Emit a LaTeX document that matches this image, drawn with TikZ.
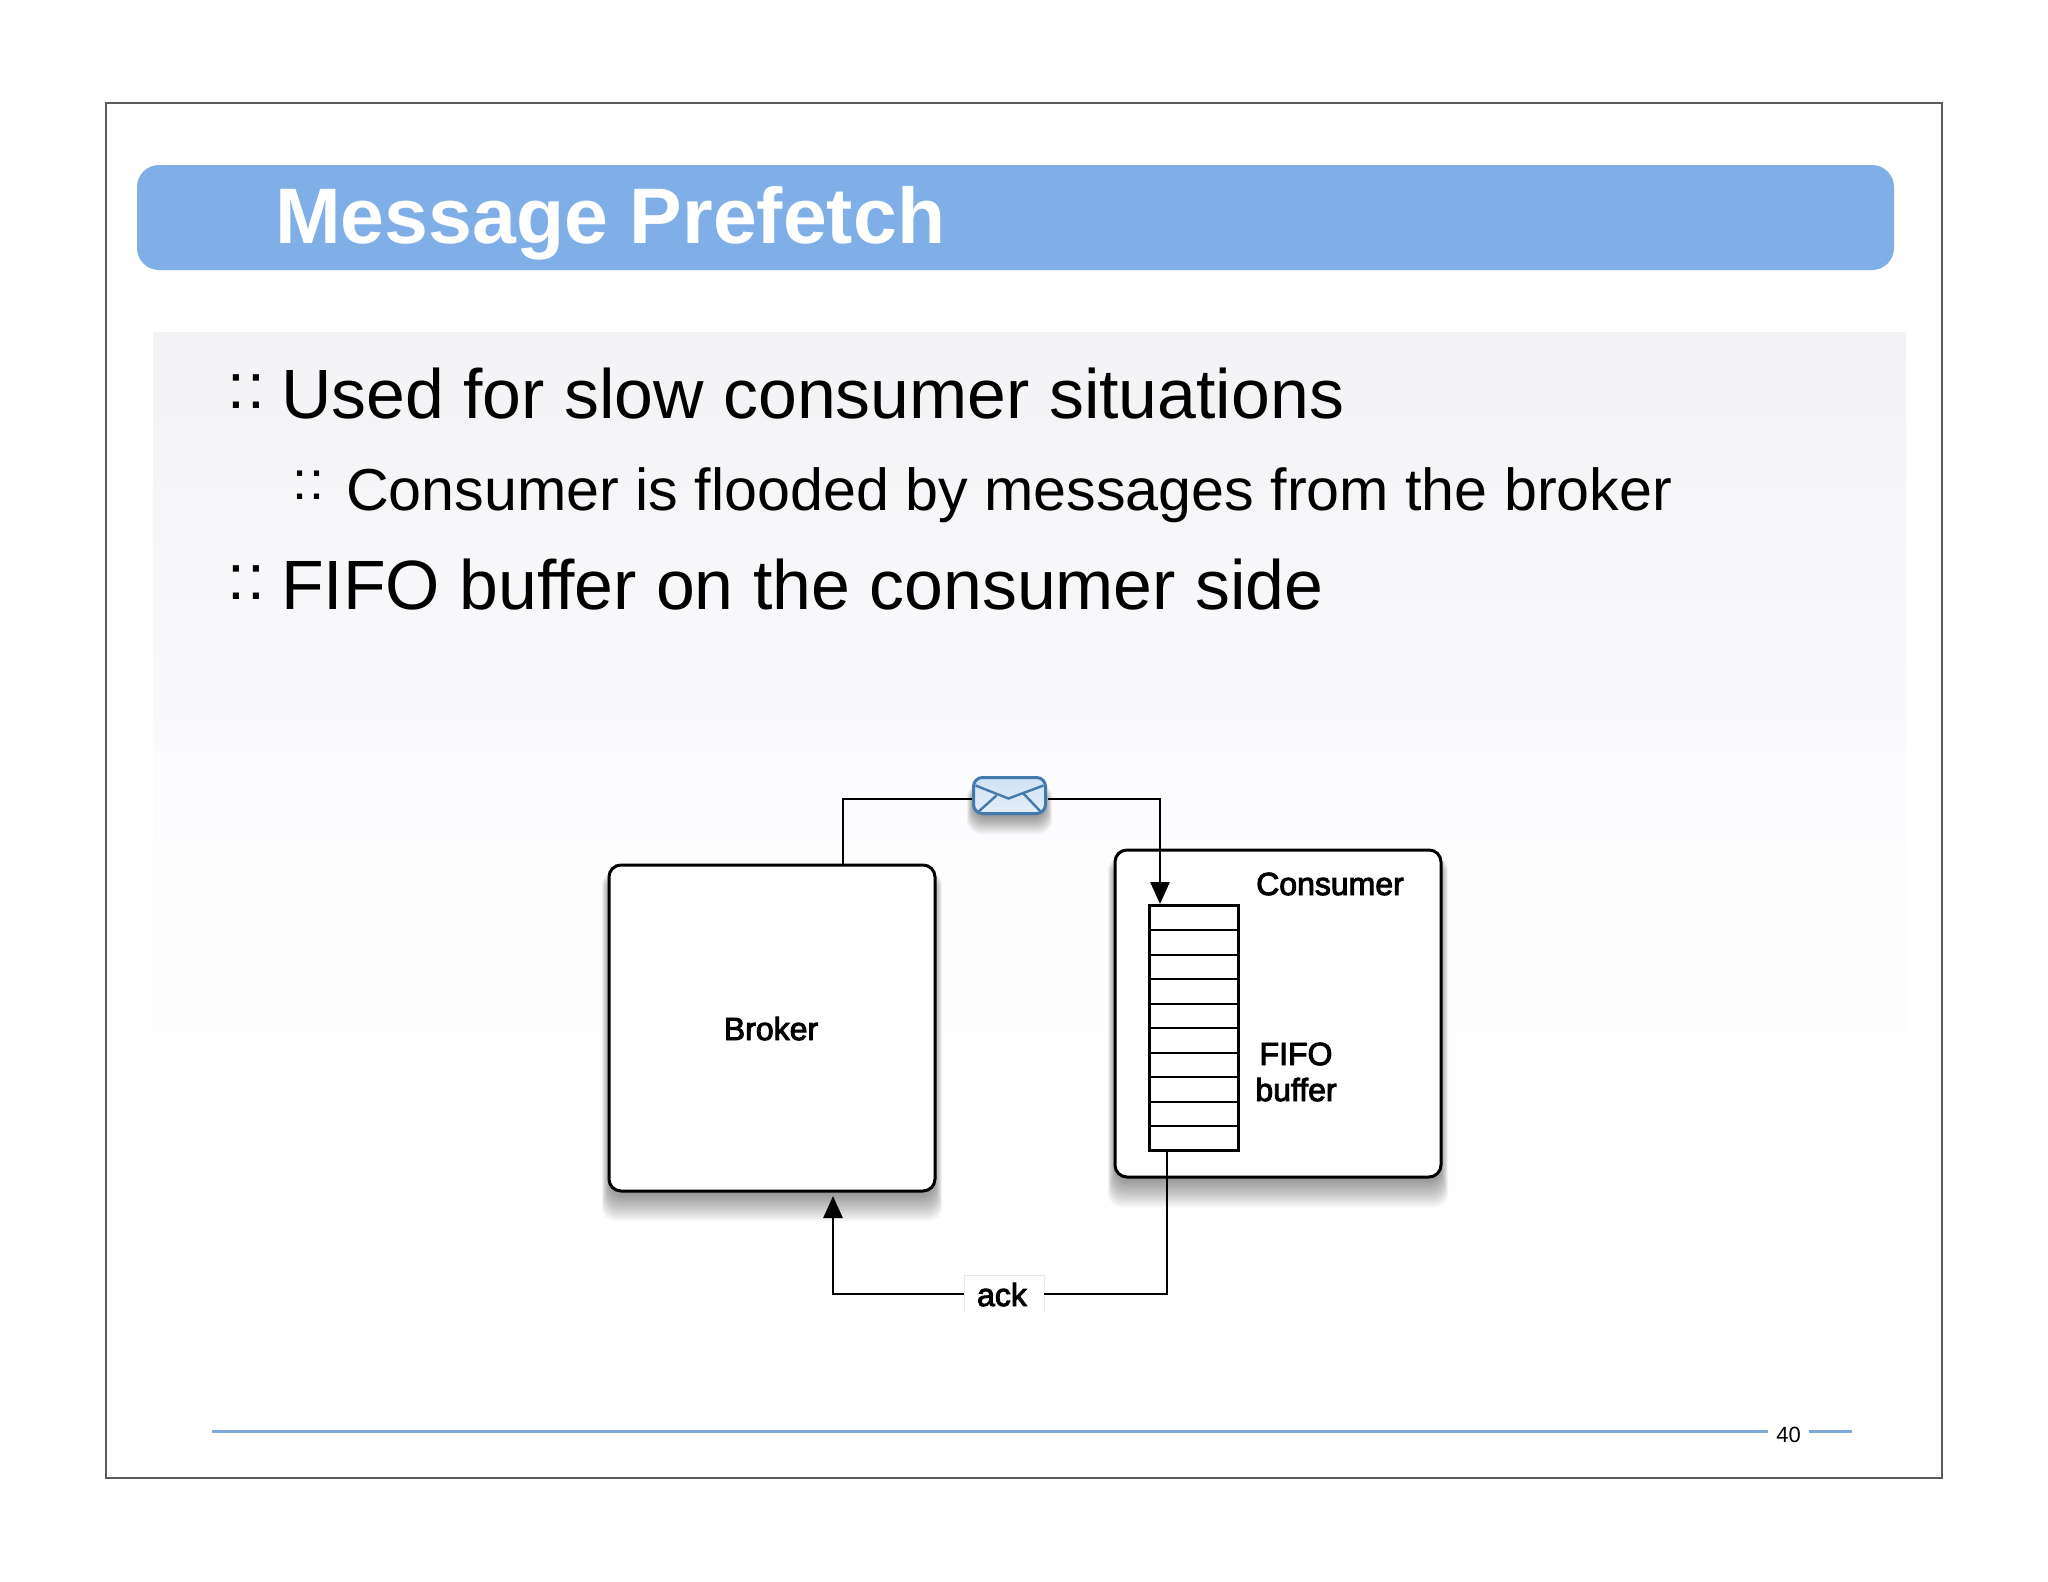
\documentclass[tikz,border=0pt]{standalone}
\usepackage{fontspec}
\setmainfont{Liberation Sans}
\newfontfamily\diagfont[FakeBold=3]{Liberation Sans}
\usetikzlibrary{arrows.meta,calc}
\definecolor{barblue}{HTML}{80AEE6}
\definecolor{rule}{HTML}{7FAADB}
\definecolor{framegray}{HTML}{5A5A5E}
\definecolor{envedge}{HTML}{4479AC}
\definecolor{gradtop}{HTML}{F3F3F6}
\definecolor{gradmid}{HTML}{FAFAFC}
\definecolor{gradlow}{HTML}{FCFCFE}
\definecolor{envtop}{HTML}{CFE2F4}
\definecolor{envlow}{HTML}{E4EEF8}
\definecolor{ackedge}{HTML}{E8E8E8}
\newcommand\pxsize[1]{\fontsize{#1}{#1}\selectfont}
\newcommand\softshadow[6]{%
  \foreach \i in {0,...,13}{%
    \fill[black,opacity=0.036,rounded corners=14pt]
      ({#1-#5+\i*(#5+1)/13},{#2+6+\i*0.6}) rectangle ({#3+#5-\i*(#5+1)/13},{#4+#6-\i*(#6-1)/13});
  }}
\tikzset{
  x=1pt,y=-1pt,
  box/.style={draw=black,line width=3pt,fill=white,rounded corners=12pt,inner sep=0pt,outer sep=0pt},
  conn/.style={draw=black,line width=2.8pt},
  tip/.style={-{Triangle[length=22pt,width=19pt]}},
  bullettext/.style={anchor=base west,inner sep=0pt,text=black},
  difftext/.style={font=\diagfont\pxsize{32},inner sep=0pt,text=black,anchor=base},
  cellline/.style={draw=black,line width=2pt},
}
\begin{document}
\begin{tikzpicture}
\useasboundingbox (0,0) rectangle (2048,1582);
\fill[white] (0,0) rectangle (2048,1582);
% content gradient
\fill[top color=gradtop,bottom color=gradmid] (153,332) rectangle (1906,751);
\fill[top color=gradlow,bottom color=white] (153,751) rectangle (1906,1310);
% frame
\node[draw=framegray,line width=1.6pt,minimum width=1836pt,minimum height=1375pt,inner sep=0pt,outer sep=0pt] (frame) at (1024,790.5) {};
% title
\node[fill=barblue,rounded corners=22pt,minimum width=1757pt,minimum height=105pt,inner sep=0pt,outer sep=0pt] (bar) at (1015.5,217.5) {};
\node[anchor=base west,inner sep=0pt,text=white,font=\bfseries\pxsize{78.8}] (title) at (275,243) {Message Prefetch};
% bullets
\node[bullettext,font=\pxsize{69.8}] (b1) at (281,418) {Used for slow consumer situations};
\node[bullettext,font=\pxsize{59.2}] (b2) at (346,510) {Consumer is flooded by messages from the broker};
\node[bullettext,font=\pxsize{69.8}] (b3) at (281,609) {FIFO buffer on the consumer side};
\node[bullettext,font=\pxsize{64}] (d1) at (227,408) {:\kern3pt:};
\node[bullettext,font=\pxsize{54}] (d2) at (292,499) {:\kern2pt:};
\node[bullettext,font=\pxsize{64}] (d3) at (227,599) {:\kern3pt:};
% shadows
\softshadow{609}{865}{935}{1191}{7}{30}
\softshadow{1115}{850}{1441}{1177}{7}{30}
\softshadow{973}{777}{1046}{814}{6}{20}
% boxes
\node[box,minimum width=326pt,minimum height=326pt] (broker) at (772,1028) {};
\node[box,minimum width=326pt,minimum height=327pt] (consumer) at (1278,1013.5) {};
\node[difftext] (brokerl) at (771,1040) {Broker};
\node[difftext] (consumerl) at (1330,895) {Consumer};
\node[difftext] (fifol) at (1296,1065) {FIFO};
\node[difftext] (bufferl) at (1296,1101) {buffer};
% FIFO buffer
\node[draw=black,line width=2.4pt,fill=white,minimum width=89pt,minimum height=245pt,inner sep=0pt,outer sep=0pt] (fifo) at (1194,1028) {};
\foreach \i in {1,...,9}{\draw[cellline] ($(fifo.north west)+(0,{\i*24.5})$) -- ($(fifo.north east)+(0,{\i*24.5})$);}
% envelope
\node[draw=envedge,line width=3pt,rounded corners=9pt,top color=envtop,bottom color=envlow,minimum width=72pt,minimum height=36pt,inner sep=0pt,outer sep=0pt] (env) at (1009.5,795.5) {};
\draw[envedge,line width=2.4pt] ($(env.north west)+(2,8)$) -- ($(env.center)+(-1,3)$) -- ($(env.north east)+(-2,8)$);
\draw[envedge,line width=2.4pt] ($(env.south west)+(4,-1)$) -- ($(env.center)+(-13,0)$);
\draw[envedge,line width=2.4pt] ($(env.south east)+(-4,-1)$) -- ($(env.center)+(13,-3)$);
% ack
\node[fill=white,minimum width=80pt,minimum height=37pt,inner sep=0pt,outer sep=0pt] (ack) at (1004,1294) {};
\draw[ackedge,line width=1pt] (ack.south west) |- (ack.north east) -- (ack.south east);
\node[difftext] (ackl) at (1002,1306) {ack};
% connectors
\coordinate (brokerout) at (843,865);
\coordinate (fifoin) at (1160,904);
\coordinate (fifoout) at (1167,1150);
\coordinate (brokerin) at (833,1196);
\coordinate (envin) at ($(env.west)+(-2,3.5)$);
\coordinate (envout) at ($(env.east)+(2,3.5)$);
\draw[conn] (brokerout) |- (envin);
\draw[conn,tip] (envout) -| (fifoin);
\draw[conn] (fifoout) |- (ack.east);
\draw[conn,tip] (ack.west) -| (brokerin);
% footer
\coordinate (r1) at (212,1431);
\coordinate (r2) at (1768,1431);
\coordinate (r3) at (1809,1431);
\coordinate (r4) at (1852,1431);
\draw[rule,line width=3pt] (r1) -- (r2);
\draw[rule,line width=3pt] (r3) -- (r4);
\node[anchor=base,inner sep=0pt,font=\pxsize{22}] (page) at (1788.5,1442) {40};
\end{tikzpicture}
\end{document}
